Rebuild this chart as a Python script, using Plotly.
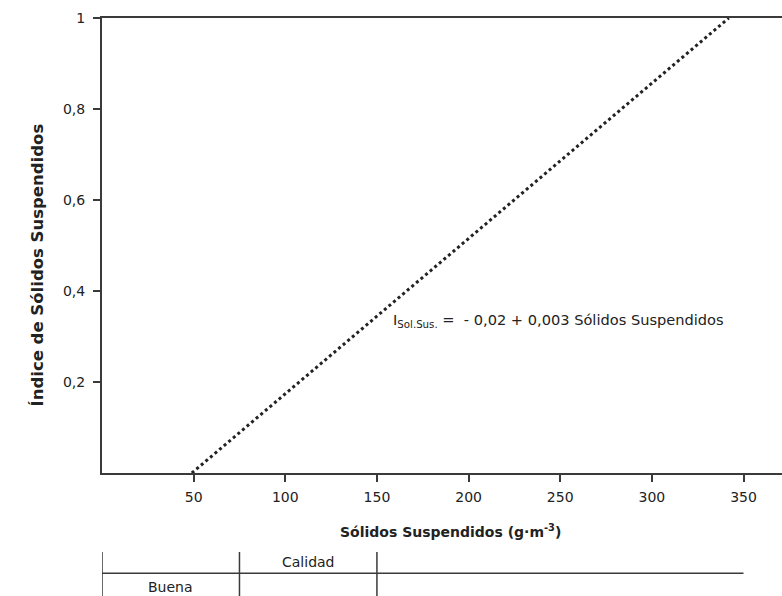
import plotly.graph_objects as go

# Suspended solids index: dotted straight line between its two end points
solids = [49, 342]          # g·m-3
index_vals = [0.0, 1.0]

x_ticks = [50, 100, 150, 200, 250, 300, 350]
y_ticks = [0.2, 0.4, 0.6, 0.8, 1.0]
y_tick_text = ["0,2", "0,4", "0,6", "0,8", "1"]

# Quality table under the axis
quality_bounds = [0, 75, 150]
quality_line_end = 350
quality_header = "Calidad"
quality_class = "Buena"

FONT = "DejaVu Sans, Verdana, sans-serif"
AXIS_COLOR = "#3a3a3a"
TEXT_COLOR = "#222222"

fig = go.Figure()
fig.add_trace(go.Scatter(
    x=solids, y=index_vals, mode="lines",
    line=dict(color=TEXT_COLOR, width=3, dash="dot"),
    hoverinfo="skip", showlegend=False,
))

fig.add_annotation(
    x=157.5, y=0.335, xref="x", yref="y", xanchor="left", yanchor="middle",
    text="I<sub>Sol.Sus.</sub> =  - 0,02 + 0,003 Sólidos Suspendidos",
    showarrow=False, font=dict(family=FONT, size=14.6, color=TEXT_COLOR),
)

# Axis titles
fig.add_annotation(
    x=190, y=-0.1275, xref="x", yref="paper", xanchor="center", yanchor="middle",
    text="<b>Sólidos Suspendidos (g·m<sup>-3</sup>)</b>", showarrow=False,
    font=dict(family=FONT, size=14, color=TEXT_COLOR),
)
fig.add_annotation(
    x=-0.095, y=0.457, xref="paper", yref="paper", xanchor="center", yanchor="middle",
    text="<b>Índice de Sólidos Suspendidos</b>", textangle=-90, showarrow=False,
    font=dict(family=FONT, size=16.5, color=TEXT_COLOR),
)

# Table lines
tbl_top, tbl_mid, tbl_bot = -0.1736, -0.2205, -0.30
for b in quality_bounds:
    fig.add_shape(type="line", xref="x", yref="paper", x0=b, x1=b, y0=tbl_top, y1=tbl_bot,
                  line=dict(color=AXIS_COLOR, width=1.5))
fig.add_shape(type="line", xref="x", yref="paper", x0=quality_bounds[0], x1=quality_line_end,
              y0=tbl_mid, y1=tbl_mid, line=dict(color=AXIS_COLOR, width=1.5))
fig.add_annotation(x=(quality_bounds[1] + quality_bounds[2]) / 2, y=-0.195,
                   xref="x", yref="paper", xanchor="center", yanchor="middle",
                   text=quality_header, showarrow=False,
                   font=dict(family=FONT, size=14, color=TEXT_COLOR))
fig.add_annotation(x=(quality_bounds[0] + quality_bounds[1]) / 2, y=-0.251,
                   xref="x", yref="paper", xanchor="center", yanchor="middle",
                   text=quality_class, showarrow=False,
                   font=dict(family=FONT, size=14, color=TEXT_COLOR))

fig.update_layout(
    width=782, height=596,
    margin=dict(l=102, r=0, t=18, b=123),
    paper_bgcolor="white", plot_bgcolor="white",
    font=dict(family=FONT, size=14, color=TEXT_COLOR),
    xaxis=dict(
        range=[0, 371], tickvals=x_ticks, ticks="outside", ticklen=7, tickwidth=1.5,
        tickcolor=AXIS_COLOR, showline=True, linecolor=AXIS_COLOR, linewidth=2,
        mirror=True, showgrid=False, zeroline=False, ticklabelstandoff=3,
    ),
    yaxis=dict(
        range=[0, 1], tickvals=y_ticks, ticktext=y_tick_text, ticks="outside",
        ticklen=7, tickwidth=1.5, tickcolor=AXIS_COLOR, showline=True,
        linecolor=AXIS_COLOR, linewidth=2, showgrid=False, zeroline=False,
        ticklabelstandoff=5,
    ),
)

fig.write_html("out.html")
